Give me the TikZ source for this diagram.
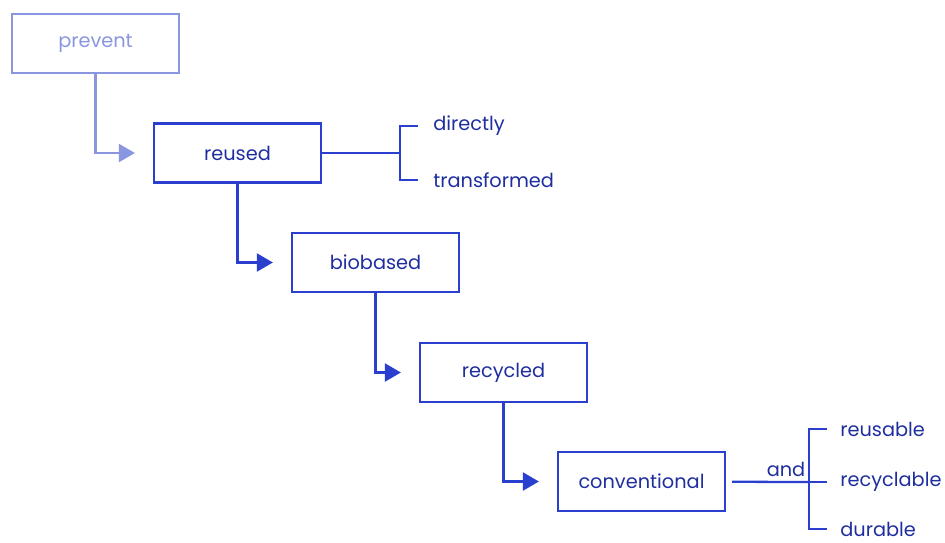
\documentclass[tikz,border=0pt]{standalone}
\usepackage{fontspec}
\setmainfont{Poppins}
\usetikzlibrary{arrows.meta}

\definecolor{lineblue}{HTML}{2B3FCF}
\definecolor{textblue}{HTML}{1F2E9E}
\definecolor{paleblue}{HTML}{8A96E0}

\begin{document}
\begin{tikzpicture}[
    x=0.02cm, y=-0.02cm,
    box/.style={draw=lineblue, line width=1.3pt, minimum width=3.34cm, minimum height=1.18cm,
        text=textblue, font=\fontsize{11}{13}\selectfont},
    palebox/.style={box, draw=paleblue, text=paleblue},
    leaf/.style={anchor=west, inner sep=0pt, text=textblue, font=\fontsize{11}{13}\selectfont},
    link/.style={lineblue, line width=1.3pt},
    flow/.style={link, -{Triangle[length=0.32cm, width=0.36cm]}, shorten >=0.36cm},
    paleflow/.style={flow, paleblue}
]
    \useasboundingbox (0,0) rectangle (945,542);
    % Stufen
    \node[palebox] (prevent) at (95.5,43.5) {prevent};
    \node[box] (reused) at (237.5,153) {reused};
    \node[box] (biobased) at (375.5,262.5) {biobased};
    \node[box] (recycled) at (503.5,372.5) {recycled};
    \node[box] (conventional) at (641.5,481.5) {conventional};
    % Pfeile
    \draw[paleflow] (prevent) |- (reused);
    \draw[flow] (reused) |- (biobased);
    \draw[flow] (biobased) |- (recycled);
    \draw[flow] (recycled) |- (conventional);
    % Verzweigung reused
    \node[leaf] (directly) at (433,126) {directly};
    \node[leaf] (transformed) at (433,180) {transformed};
    \coordinate (rb) at (400,153);
    \draw[link] (reused) -- (rb);
    \draw[link, shorten <=0.3cm, shorten >=0.3cm] (directly.west) -| (rb) |- (transformed.west);
    % Verzweigung conventional
    \node[leaf] (reusable) at (840,429) {reusable};
    \node[leaf] (recyclable) at (840,482) {recyclable};
    \node[leaf] (durable) at (840,529) {durable};
    \coordinate (cb) at (809,482);
    \draw[link, shorten <=0.12cm] (conventional) -- (cb);
    \draw[link, shorten <=0.26cm, shorten >=0.26cm] (reusable.west) -| (cb) |- (durable.west);
    \draw[link, shorten >=0.26cm] (cb) -- (recyclable.west);
    \node[leaf, anchor=base] (and) at (786,476) {and};
\end{tikzpicture}
\end{document}
